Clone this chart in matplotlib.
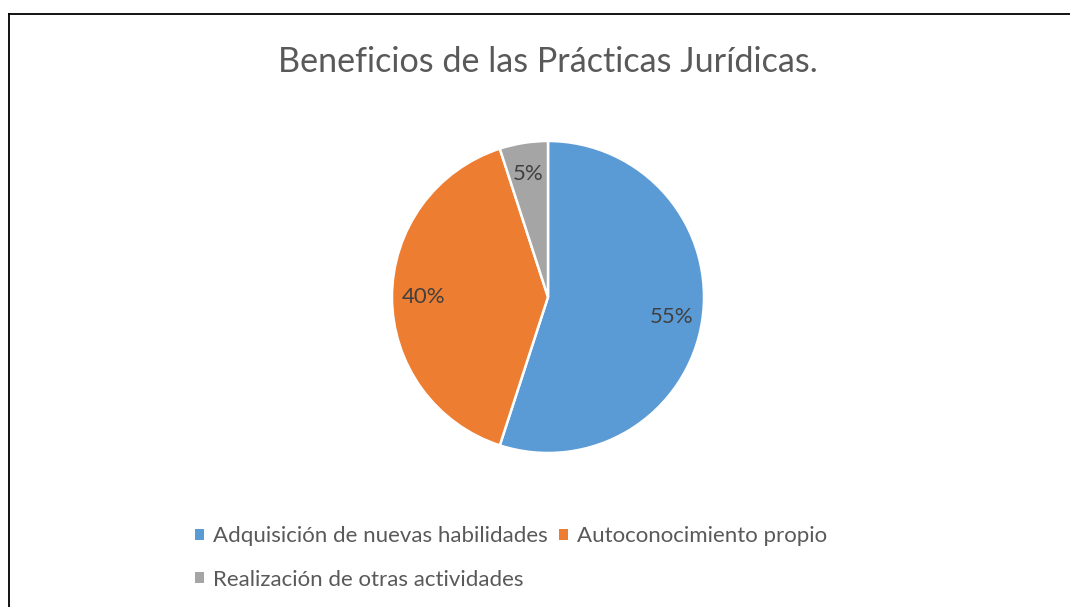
import matplotlib
matplotlib.use("Agg")
import matplotlib.pyplot as plt
from matplotlib.lines import Line2D
from matplotlib.patches import Patch

title = "Beneficios de las Prácticas Jurídicas."
categories = ["Adquisición de nuevas habilidades", "Autoconocimiento propio",
              "Realización de otras actividades"]
values = [55, 40, 5]
colors = ["#5B9BD5", "#ED7D31", "#A5A5A5"]

plt.rcParams['font.family'] = ['Lato', 'DejaVu Sans']

W, H = 1070, 607
fig = plt.figure(figsize=(W / 100, H / 100), dpi=100)
fig.patch.set_facecolor("white")

# pie axes: center (548, 297) px, radius 156 px
cx, cy, r = 548, 297, 156
ax = fig.add_axes([(cx - r) / W, (H - cy - r) / H, 2 * r / W, 2 * r / H])
wedges, texts, autotexts = ax.pie(
    values, colors=colors, startangle=90, counterclock=False, radius=1,
    autopct=lambda p: f"{p:.0f}%", pctdistance=0.8,
    wedgeprops=dict(edgecolor="white", linewidth=1.8),
    textprops=dict(color="#404040", fontsize=16))
ax.set_xlim(-1, 1)
ax.set_ylim(-1, 1)
ax.set_aspect("equal")
ax.axis("off")

fig.text(548 / W, 1 - 62 / H, title, ha="center", va="center",
         fontsize=24.6, color="#595959")

# legend: ordering so that row 1 = first two, row 2 = third
order = [0, 2, 1]
handles = [Patch(facecolor=colors[i], edgecolor="none") for i in order]
labels = [categories[i] for i in order]
leg = fig.legend(handles, labels, ncol=2, loc="center",
                 bbox_to_anchor=(511 / W, 1 - 558 / H), frameon=False,
                 fontsize=16, labelcolor="#595959", handlelength=0.4,
                 handleheight=0.4, handletextpad=0.4, columnspacing=0.5,
                 labelspacing=1.05)

# frame lines (cut off at right and bottom)
fig.add_artist(Line2D([9 / W, 1], [1 - 14 / H, 1 - 14 / H], color="black",
                      lw=1.3, transform=fig.transFigure))
fig.add_artist(Line2D([9 / W, 9 / W], [1 - 14 / H, 0], color="black",
                      lw=1.3, transform=fig.transFigure))

fig.savefig("out.png", dpi=100)
